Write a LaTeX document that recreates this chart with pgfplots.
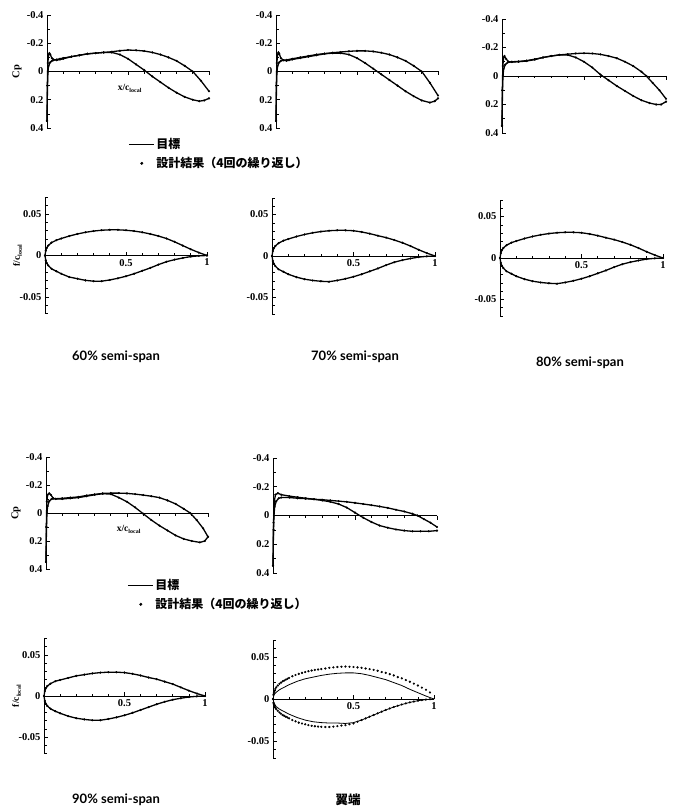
\documentclass[border=0pt]{standalone}
\usepackage{pgfplots}
\pgfplotsset{compat=1.18}
\usepackage{pgfplotstable}
\usepackage{fontspec}
\setmainfont{Liberation Serif}
\newfontfamily\cjk{Noto Sans CJK JP}
\newfontfamily\capfont{Lato}

% ---------- Cp data (x, Cp) ----------
\pgfplotstableread{
x y
0 0.35
0.002 0.10
0.005 -0.06
0.01 -0.12
0.015 -0.13
0.02 -0.12
0.03 -0.095
0.04 -0.085
0.06 -0.08
0.08 -0.085
0.10 -0.09
0.15 -0.105
0.20 -0.115
0.25 -0.125
0.30 -0.13
0.35 -0.135
0.40 -0.135
0.45 -0.12
0.50 -0.09
0.55 -0.05
0.60 -0.01
0.65 0.035
0.70 0.075
0.75 0.115
0.80 0.15
0.85 0.18
0.90 0.20
0.94 0.21
0.97 0.205
1.00 0.19
}\cpOneA
\pgfplotstableread{
x y
0 0.35
0.003 0.10
0.006 0.0
0.01 -0.04
0.02 -0.065
0.03 -0.075
0.04 -0.08
0.06 -0.085
0.08 -0.09
0.10 -0.095
0.15 -0.105
0.20 -0.115
0.25 -0.125
0.30 -0.13
0.35 -0.135
0.40 -0.14
0.45 -0.147
0.50 -0.152
0.55 -0.15
0.60 -0.145
0.65 -0.135
0.70 -0.12
0.75 -0.10
0.80 -0.075
0.85 -0.04
0.90 0.0
0.95 0.065
1.00 0.14
}\cpOneB
\pgfplotstableread{
x y
0 0.35
0.002 0.10
0.005 -0.06
0.01 -0.12
0.015 -0.135
0.02 -0.125
0.03 -0.095
0.045 -0.08
0.065 -0.076
0.08 -0.08
0.10 -0.085
0.15 -0.095
0.20 -0.105
0.25 -0.115
0.30 -0.125
0.35 -0.13
0.40 -0.13
0.45 -0.12
0.50 -0.095
0.55 -0.06
0.60 -0.02
0.65 0.02
0.70 0.06
0.75 0.10
0.80 0.14
0.85 0.175
0.90 0.205
0.95 0.22
0.98 0.21
1.00 0.19
}\cpTwoA
\pgfplotstableread{
x y
0 0.35
0.003 0.10
0.006 0.0
0.01 -0.04
0.02 -0.065
0.03 -0.075
0.045 -0.08
0.065 -0.082
0.10 -0.09
0.15 -0.10
0.20 -0.11
0.25 -0.12
0.30 -0.127
0.35 -0.133
0.40 -0.138
0.45 -0.143
0.50 -0.146
0.55 -0.146
0.60 -0.142
0.65 -0.133
0.70 -0.12
0.75 -0.10
0.80 -0.075
0.85 -0.04
0.90 0.0
0.95 0.08
1.00 0.17
}\cpTwoB
\pgfplotstableread{
x y
0 0.35
0.002 0.10
0.005 -0.07
0.01 -0.13
0.015 -0.14
0.025 -0.12
0.04 -0.10
0.06 -0.098
0.10 -0.10
0.15 -0.105
0.20 -0.115
0.25 -0.13
0.30 -0.14
0.35 -0.148
0.40 -0.148
0.45 -0.13
0.50 -0.10
0.55 -0.06
0.60 -0.01
0.65 0.03
0.70 0.07
0.75 0.105
0.80 0.14
0.85 0.17
0.90 0.19
0.94 0.20
0.97 0.20
1.00 0.18
}\cpThreeA
\pgfplotstableread{
x y
0 0.35
0.003 0.10
0.006 0.0
0.01 -0.05
0.02 -0.08
0.035 -0.095
0.06 -0.10
0.10 -0.102
0.15 -0.108
0.20 -0.118
0.25 -0.13
0.30 -0.14
0.35 -0.148
0.40 -0.153
0.45 -0.158
0.50 -0.16
0.55 -0.158
0.60 -0.152
0.65 -0.14
0.70 -0.125
0.75 -0.10
0.80 -0.07
0.85 -0.03
0.88 0.0
0.92 0.05
0.96 0.10
1.00 0.16
}\cpThreeB
\pgfplotstableread{
x y
0 0.35
0.002 0.10
0.005 -0.08
0.01 -0.13
0.02 -0.14
0.03 -0.13
0.045 -0.105
0.06 -0.10
0.10 -0.10
0.15 -0.105
0.20 -0.11
0.25 -0.12
0.30 -0.13
0.35 -0.138
0.40 -0.135
0.45 -0.11
0.50 -0.08
0.55 -0.04
0.60 0.005
0.65 0.05
0.70 0.09
0.75 0.125
0.80 0.16
0.85 0.185
0.90 0.20
0.95 0.21
0.98 0.20
1.00 0.17
}\cpFourA
\pgfplotstableread{
x y
0 0.35
0.003 0.10
0.006 0.0
0.01 -0.05
0.02 -0.085
0.035 -0.10
0.06 -0.102
0.10 -0.105
0.15 -0.11
0.20 -0.115
0.25 -0.125
0.30 -0.133
0.35 -0.14
0.40 -0.142
0.45 -0.142
0.50 -0.14
0.55 -0.135
0.60 -0.128
0.65 -0.12
0.70 -0.11
0.75 -0.09
0.80 -0.065
0.85 -0.03
0.89 0.0
0.93 0.05
0.97 0.11
1.00 0.17
}\cpFourB
\pgfplotstableread{
x y
0 0.35
0.003 0.05
0.008 -0.10
0.015 -0.145
0.03 -0.155
0.05 -0.145
0.10 -0.135
0.15 -0.127
0.20 -0.12
0.25 -0.113
0.30 -0.105
0.35 -0.095
0.40 -0.08
0.45 -0.055
0.50 -0.02
0.55 0.015
0.60 0.045
0.65 0.07
0.70 0.085
0.75 0.097
0.80 0.105
0.85 0.11
0.90 0.11
0.95 0.11
1.00 0.105
}\cpFiveA
\pgfplotstableread{
x y
0 0.35
0.003 0.10
0.006 0.0
0.01 -0.06
0.02 -0.10
0.035 -0.12
0.05 -0.125
0.10 -0.125
0.15 -0.12
0.20 -0.117
0.25 -0.113
0.30 -0.11
0.35 -0.105
0.40 -0.10
0.45 -0.095
0.50 -0.088
0.55 -0.08
0.60 -0.072
0.65 -0.063
0.70 -0.053
0.75 -0.04
0.80 -0.028
0.85 -0.012
0.88 0.0
0.92 0.025
0.96 0.05
1.00 0.08
}\cpFiveB

% ---------- shape data (x, f/c) ----------
\pgfplotstableread{
x up lo
0 0 0
0.005 0.006 -0.006
0.01 0.009 -0.009
0.02 0.012 -0.012
0.04 0.0155 -0.016
0.07 0.0185 -0.019
0.10 0.0205 -0.022
0.15 0.0235 -0.026
0.20 0.026 -0.028
0.25 0.028 -0.030
0.30 0.0295 -0.031
0.35 0.0305 -0.031
0.40 0.031 -0.0295
0.45 0.031 -0.0275
0.50 0.0305 -0.025
0.55 0.0295 -0.022
0.60 0.028 -0.0185
0.65 0.026 -0.015
0.70 0.0235 -0.011
0.75 0.0205 -0.0075
0.80 0.0165 -0.005
0.85 0.012 -0.003
0.90 0.0075 -0.0013
0.95 0.0035 -0.0004
1.00 0 0
}\shOne
\pgfplotstableread{
x up lo
0 0 0
0.005 0.006 -0.006
0.01 0.009 -0.009
0.02 0.012 -0.012
0.04 0.0155 -0.016
0.07 0.0185 -0.019
0.10 0.0205 -0.022
0.15 0.0235 -0.0255
0.20 0.026 -0.028
0.25 0.028 -0.0295
0.30 0.0295 -0.0305
0.35 0.0305 -0.031
0.40 0.031 -0.0295
0.45 0.031 -0.0275
0.50 0.0305 -0.025
0.55 0.029 -0.022
0.60 0.027 -0.0185
0.65 0.0245 -0.015
0.70 0.0222 -0.011
0.75 0.0193 -0.0075
0.80 0.016 -0.005
0.85 0.012 -0.003
0.90 0.0075 -0.0013
0.95 0.0035 -0.0004
1.00 0 0
}\shTwo
\pgfplotstableread{
x up lo
0 0 0
0.005 0.006 -0.006
0.01 0.009 -0.009
0.02 0.012 -0.012
0.04 0.0155 -0.016
0.07 0.0185 -0.019
0.10 0.0205 -0.022
0.15 0.0235 -0.0255
0.20 0.026 -0.028
0.25 0.028 -0.0295
0.30 0.0295 -0.0305
0.35 0.0305 -0.031
0.40 0.031 -0.0295
0.45 0.031 -0.0275
0.50 0.0305 -0.025
0.55 0.029 -0.022
0.60 0.027 -0.0185
0.65 0.0245 -0.015
0.70 0.0222 -0.011
0.75 0.0193 -0.0075
0.80 0.016 -0.005
0.85 0.012 -0.003
0.90 0.0075 -0.0013
0.95 0.0035 -0.0004
1.00 0 0
}\shThree
\pgfplotstableread{
x up lo
0 0 0
0.005 0.006 -0.006
0.01 0.009 -0.009
0.02 0.012 -0.012
0.04 0.015 -0.0155
0.07 0.018 -0.0185
0.10 0.0195 -0.021
0.15 0.022 -0.0245
0.20 0.0245 -0.027
0.25 0.026 -0.0285
0.30 0.0275 -0.0295
0.35 0.0285 -0.0295
0.40 0.029 -0.028
0.45 0.029 -0.026
0.50 0.0285 -0.0235
0.55 0.027 -0.0205
0.60 0.025 -0.017
0.65 0.0225 -0.0135
0.70 0.0205 -0.010
0.75 0.0175 -0.007
0.80 0.0145 -0.0045
0.85 0.0105 -0.0027
0.90 0.0065 -0.0012
0.95 0.003 -0.0004
1.00 0 0
}\shFour
\pgfplotstableread{
x up lo
0 0 0
0.005 0.004 -0.004
0.01 0.006 -0.006
0.02 0.008 -0.009
0.04 0.011 -0.012
0.07 0.014 -0.015
0.10 0.017 -0.018
0.15 0.021 -0.022
0.20 0.024 -0.025
0.25 0.026 -0.027
0.30 0.028 -0.028
0.35 0.0295 -0.0285
0.40 0.0305 -0.0285
0.45 0.031 -0.029
0.50 0.031 -0.028
0.55 0.030 -0.025
0.60 0.028 -0.021
0.65 0.0255 -0.017
0.70 0.023 -0.013
0.75 0.0195 -0.0095
0.80 0.016 -0.0065
0.85 0.0115 -0.004
0.90 0.0075 -0.002
0.95 0.0035 -0.0007
1.00 0 0
}\shFiveT
\pgfplotstableread{
x up lo
0 0 0
0.0025 0.005 -0.0045
0.005 0.007 -0.006
0.0075 0.0085 -0.0075
0.01 0.010 -0.009
0.015 0.012 -0.0105
0.02 0.014 -0.012
0.03 0.016 -0.014
0.04 0.018 -0.016
0.05 0.0195 -0.0175
0.06 0.021 -0.019
0.07 0.022 -0.020
0.08 0.023 -0.021
0.09 0.024 -0.022
0.10 0.025 -0.023
0.12 0.027 -0.025
0.14 0.0285 -0.0265
0.16 0.0298 -0.028
0.18 0.031 -0.029
0.20 0.032 -0.030
0.22 0.033 -0.031
0.24 0.0338 -0.0318
0.26 0.0345 -0.0323
0.28 0.035 -0.0327
0.30 0.0355 -0.033
0.325 0.0362 -0.0332
0.35 0.037 -0.0332
0.375 0.0375 -0.0328
0.40 0.038 -0.0322
0.425 0.0383 -0.0315
0.45 0.0385 -0.031
0.475 0.0383 -0.030
0.50 0.038 -0.029
0.525 0.0375 -0.027
0.55 0.037 -0.025
0.575 0.0362 -0.023
0.60 0.0355 -0.021
0.625 0.0345 -0.019
0.65 0.0335 -0.017
0.675 0.032 -0.015
0.70 0.031 -0.013
0.725 0.0295 -0.0112
0.75 0.028 -0.0095
0.775 0.026 -0.008
0.80 0.0245 -0.0065
0.825 0.0225 -0.0052
0.85 0.0205 -0.004
0.875 0.0182 -0.003
0.90 0.016 -0.002
0.925 0.0135 -0.0013
0.95 0.011 -0.0007
0.975 0.0078 -0.0003
}\shFiveD

\pgfplotsset{
  base/.style={scale only axis, clip=false, xmin=0, xmax=1,
    axis y line=left, axis x line=middle,
    axis line style={-, line width=0.9pt},
    every tick/.style={black, line width=0.7pt},
    hide obscured x ticks=false, hide obscured y ticks=false,
    scaled ticks=false,
    tick align=inside, major tick length=4pt, minor tick length=2.5pt,
    /pgf/number format/assume math mode=true,
    ticklabel style={font=\bfseries\fontsize{10.5}{11}\selectfont},
    minor xtick={0.1,0.2,0.3,0.4,0.6,0.7,0.8,0.9}},
  cp/.style={base, width=162pt, height=113pt, ymin=-0.4, ymax=0.4, y dir=reverse,
    ytick={-0.4,-0.2,0,0.2,0.4}, yticklabels={-0.4,-0.2,0,0.2,0.4},
    minor ytick={-0.3,-0.1,0.1,0.3},
    xtick={0.5,1}, xticklabels={}},
  sh/.style={base, width=162pt, height=116pt, ymin=-0.07, ymax=0.07,
    ytick={-0.05,0,0.05}, yticklabels={-0.05,0,0.05},
    minor ytick={-0.07,-0.06,-0.04,-0.03,-0.02,-0.01,0.01,0.02,0.03,0.04,0.06,0.07},
    xtick={0.5,1}, xticklabels={0.5,1}},
  tgt/.style={black, line width=1.3pt, no markers},
  des/.style={black, only marks, mark=*, mark size=0.9pt},
  leg/.style={legend style={at={(axis description cs:0.5,-0.075)}, anchor=north west,
    draw=none, fill=none, inner sep=0pt, row sep=3pt,
    font=\cjk\bfseries\fontsize{12}{13}\selectfont, cells={anchor=west}}},
}
\newcommand{\lbl}[1]{\bfseries\fontsize{9.5}{10}\selectfont #1\raisebox{-0.45ex}{\fontsize{6}{6}\selectfont local}}

\begin{document}
\begin{tikzpicture}
\useasboundingbox (0pt,0pt) rectangle (679pt,-809pt);

% ===== Row 1 Cp =====
\begin{axis}[cp, leg, at={(47pt,-15pt)}, anchor=north west]
\addlegendimage{legend image code/.code={\draw[black,line width=1.2pt] (0pt,0pt) -- (25pt,0pt);}}
\addlegendentry{目標}
\addlegendimage{legend image code/.code={\fill[black] (13pt,0pt) circle (1.3pt);}}
\addlegendentry{設計結果（4回の繰り返し）}
\addplot[tgt] table[x=x,y=y] {\cpOneA};
\addplot[tgt] table[x=x,y=y] {\cpOneB};
\addplot[des] table[x=x,y=y] {\cpOneA};
\addplot[des] table[x=x,y=y] {\cpOneB};
\node[rotate=90, font=\bfseries\fontsize{10.5}{11}\selectfont] at (axis description cs:-0.185,0.5) {Cp};
\node at (axis description cs:0.51,0.35) {\lbl{x/c}};
\end{axis}

\begin{axis}[cp, at={(276pt,-15pt)}, anchor=north west]
\addplot[tgt] table[x=x,y=y] {\cpTwoA};
\addplot[tgt] table[x=x,y=y] {\cpTwoB};
\addplot[des] table[x=x,y=y] {\cpTwoA};
\addplot[des] table[x=x,y=y] {\cpTwoB};
\end{axis}

\begin{axis}[cp, width=164pt, height=114pt, at={(502pt,-19pt)}, anchor=north west]
\addplot[tgt] table[x=x,y=y] {\cpThreeA};
\addplot[tgt] table[x=x,y=y] {\cpThreeB};
\addplot[des] table[x=x,y=y] {\cpThreeA};
\addplot[des] table[x=x,y=y] {\cpThreeB};
\end{axis}

% ===== Row 1 shapes =====
\begin{axis}[sh, at={(45pt,-197.5pt)}, anchor=north west]
\addplot[tgt] table[x=x,y=up] {\shOne};
\addplot[tgt] table[x=x,y=lo] {\shOne};
\addplot[des] table[x=x,y=up] {\shOne};
\addplot[des] table[x=x,y=lo] {\shOne};
\node[rotate=90] at (axis description cs:-0.17,0.5) {\lbl{f/c}};
\end{axis}

\begin{axis}[sh, width=163pt, at={(272pt,-198pt)}, anchor=north west]
\addplot[tgt] table[x=x,y=up] {\shTwo};
\addplot[tgt] table[x=x,y=lo] {\shTwo};
\addplot[des] table[x=x,y=up] {\shTwo};
\addplot[des] table[x=x,y=lo] {\shTwo};
\end{axis}

\begin{axis}[sh, width=163pt, at={(500pt,-200pt)}, anchor=north west]
\addplot[tgt] table[x=x,y=up] {\shThree};
\addplot[tgt] table[x=x,y=lo] {\shThree};
\addplot[des] table[x=x,y=up] {\shThree};
\addplot[des] table[x=x,y=lo] {\shThree};
\end{axis}

\node[font=\capfont\bfseries\fontsize{13}{14}\selectfont] at (116pt,-357pt) {60\% semi-span};
\node[font=\capfont\bfseries\fontsize{13}{14}\selectfont] at (355pt,-357pt) {70\% semi-span};
\node[font=\capfont\bfseries\fontsize{13}{14}\selectfont] at (580pt,-363pt) {80\% semi-span};

% ===== Row 2 Cp =====
\begin{axis}[cp, leg, height=112pt, at={(46pt,-457pt)}, anchor=north west]
\addlegendimage{legend image code/.code={\draw[black,line width=1.2pt] (0pt,0pt) -- (25pt,0pt);}}
\addlegendentry{目標}
\addlegendimage{legend image code/.code={\fill[black] (13pt,0pt) circle (1.3pt);}}
\addlegendentry{設計結果（4回の繰り返し）}
\addplot[tgt] table[x=x,y=y] {\cpFourA};
\addplot[tgt] table[x=x,y=y] {\cpFourB};
\addplot[des] table[x=x,y=y] {\cpFourA};
\addplot[des] table[x=x,y=y] {\cpFourB};
\node[rotate=90, font=\bfseries\fontsize{10.5}{11}\selectfont] at (axis description cs:-0.185,0.5) {Cp};
\node at (axis description cs:0.51,0.35) {\lbl{x/c}};
\end{axis}

\begin{axis}[cp, width=164pt, height=115pt, at={(273pt,-458pt)}, anchor=north west]
\addplot[tgt] table[x=x,y=y] {\cpFiveA};
\addplot[tgt] table[x=x,y=y] {\cpFiveB};
\addplot[des] table[x=x,y=y] {\cpFiveA};
\addplot[des] table[x=x,y=y] {\cpFiveB};
\end{axis}

% ===== Row 2 shapes =====
\begin{axis}[sh, width=161pt, height=115pt, at={(44pt,-638.5pt)}, anchor=north west]
\addplot[tgt] table[x=x,y=up] {\shFour};
\addplot[tgt] table[x=x,y=lo] {\shFour};
\addplot[des] table[x=x,y=up] {\shFour};
\addplot[des] table[x=x,y=lo] {\shFour};
\node[rotate=90] at (axis description cs:-0.17,0.5) {\lbl{f/c}};
\end{axis}

\begin{axis}[sh, width=161pt, height=118pt, at={(273pt,-640pt)}, anchor=north west]
\addplot[black, line width=0.8pt, no markers] table[x=x,y=up] {\shFiveT};
\addplot[black, line width=0.8pt, no markers] table[x=x,y=lo] {\shFiveT};
\addplot[des, mark size=0.9pt] table[x=x,y=up] {\shFiveD};
\addplot[des, mark size=0.9pt] table[x=x,y=lo] {\shFiveD};
\end{axis}

\node[font=\capfont\bfseries\fontsize{13}{14}\selectfont] at (116pt,-800pt) {90\% semi-span};
\node[font=\cjk\bfseries\fontsize{12.5}{13}\selectfont] at (348pt,-800pt) {翼端};
\end{tikzpicture}
\end{document}
